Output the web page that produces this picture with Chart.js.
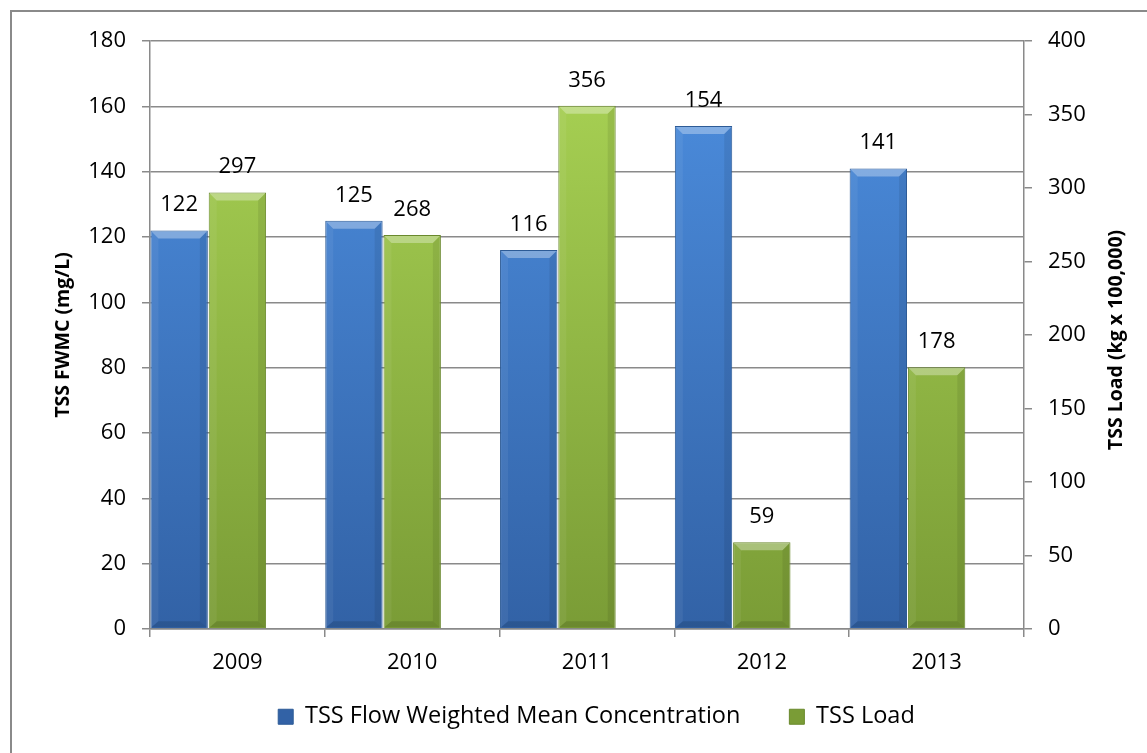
<!DOCTYPE html>
<html>
<head>
<meta charset="utf-8">
<script src="https://cdn.jsdelivr.net/npm/chart.js@4/dist/chart.umd.min.js"></script>
<style>
  html, body { margin: 0; padding: 0; background: #ffffff; overflow: hidden; }
  #wrap { position: relative; width: 1147px; height: 753px; }
  #frame { position: absolute; left: 10px; top: 10px; width: 1200px; height: 800px;
           border-left: 2px solid #8a8a8a; border-top: 2px solid #8a8a8a; pointer-events: none; }
  canvas { position: absolute; left: 0; top: 0; }
</style>
</head>
<body>
<div id="wrap">
  <canvas id="chart" width="1147" height="753"></canvas>
  <div id="frame"></div>
</div>
<script>
// Years on the category axis
const years = ['2009', '2010', '2011', '2012', '2013'];
// Flow weighted mean concentration, mg/L (left axis)
const fwmcValues = [122, 125, 116, 154, 141];
// Sediment load, kg x 100,000 (right axis)
const loadValues = [297, 268, 356, 59, 178];
// Empty third slot that keeps each year's pair of columns left-aligned
const spacerValues = [null, null, null, null, null];

const seriesNames = ['TSS Flow Weighted Mean Concentration', 'TSS Load'];
const leftTitle = 'TSS FWMC (mg/L)';
const rightTitle = 'TSS Load (kg x 100,000)';

const FONT = '"Open Sans", Lato, sans-serif';
const GRID = '#8a8a8a';

function verticalFill(topColor, bottomColor) {
  return (ctx) => {
    const area = ctx.chart.chartArea;
    if (!area) return bottomColor;
    const g = ctx.chart.ctx.createLinearGradient(0, area.top, 0, area.bottom);
    g.addColorStop(0, topColor);
    g.addColorStop(1, bottomColor);
    return g;
  };
}

// Place the legend row just under the year labels
const legendPlacement = {
  id: 'legendPlacement',
  afterLayout(chart) {
    const lg = chart.legend;
    if (!lg) return;
    lg.top = 656;
    lg.bottom = 752;
    lg.height = lg.bottom - lg.top;
    lg.left += 19;
    lg.right += 19;
  }
};

// Both axis titles read bottom-to-top
const axisTitles = {
  id: 'axisTitles',
  afterDraw(chart) {
    const ctx = chart.ctx;
    const a = chart.chartArea;
    const mid = (a.top + a.bottom) / 2;
    ctx.save();
    ctx.fillStyle = '#000000';
    ctx.font = 'bold 19.5px ' + FONT;
    ctx.textAlign = 'center';
    ctx.textBaseline = 'middle';
    [[leftTitle, 63, mid], [rightTitle, 1116, mid + 5]].forEach(([text, x, y]) => {
      ctx.save();
      ctx.translate(x, y);
      ctx.rotate(-Math.PI / 2);
      ctx.fillText(text, 0, 0);
      ctx.restore();
    });
    ctx.restore();
  }
};

// Bevel highlight on each column plus value labels above it
const columnDecor = {
  id: 'columnDecor',
  afterDatasetsDraw(chart) {
    const ctx = chart.ctx;
    ctx.save();
    [0, 1].forEach((di) => {
      const meta = chart.getDatasetMeta(di);
      const values = chart.data.datasets[di].data;
      meta.data.forEach((bar, i) => {
        if (values[i] == null) return;
        const {x, y, width, base} = bar.getProps(['x', 'y', 'width', 'base'], true);
        const l = x - width / 2 + 1, r = x + width / 2 - 1, t = y + 1;
        const b = 7;
        ctx.beginPath();
        ctx.moveTo(l, t); ctx.lineTo(r, t); ctx.lineTo(r - b, t + b); ctx.lineTo(l + b, t + b);
        ctx.closePath();
        ctx.fillStyle = 'rgba(255,255,255,0.32)';
        ctx.fill();
        ctx.beginPath();
        ctx.moveTo(l, t); ctx.lineTo(l + b, t + b); ctx.lineTo(l + b, base - b); ctx.lineTo(l, base - 1);
        ctx.closePath();
        ctx.fillStyle = 'rgba(255,255,255,0.06)';
        ctx.fill();
        ctx.beginPath();
        ctx.moveTo(r, t); ctx.lineTo(r - b, t + b); ctx.lineTo(r - b, base - b); ctx.lineTo(r, base - 1);
        ctx.closePath();
        ctx.fillStyle = 'rgba(0,0,0,0.08)';
        ctx.fill();
        ctx.beginPath();
        ctx.moveTo(l, base - 1); ctx.lineTo(r, base - 1); ctx.lineTo(r - b, base - b); ctx.lineTo(l + b, base - b);
        ctx.closePath();
        ctx.fillStyle = 'rgba(0,0,0,0.12)';
        ctx.fill();
        ctx.fillStyle = '#000000';
        ctx.font = '22px ' + FONT;
        ctx.textAlign = 'center';
        ctx.textBaseline = 'alphabetic';
        ctx.fillText(String(values[i]), x, y - 19);
      });
    });
    ctx.restore();
  }
};

new Chart(document.getElementById('chart'), {
  type: 'bar',
  data: {
    labels: years,
    datasets: [
      {
        label: seriesNames[0],
        data: fwmcValues,
        yAxisID: 'y',
        backgroundColor: verticalFill('#4d8fe0', '#3262a6'),
        borderColor: '#2d5b96',
        borderWidth: 1
      },
      {
        label: seriesNames[1],
        data: loadValues,
        yAxisID: 'y1',
        backgroundColor: verticalFill('#aad455', '#7a9c36'),
        borderColor: '#6a892d',
        borderWidth: 1
      },
      {
        label: '',
        data: spacerValues,
        yAxisID: 'y',
        backgroundColor: 'rgba(0,0,0,0)'
      }
    ]
  },
  options: {
    responsive: false,
    animation: false,
    datasets: { bar: { categoryPercentage: 1.0, barPercentage: 0.985 } },
    layout: { padding: { left: 20, right: 12, top: 41, bottom: 1 } },
    plugins: {
      legend: {
        position: 'bottom',
        maxHeight: 40,
        labels: {
          font: { family: FONT, size: 23.5 },
          color: '#000000',
          boxWidth: 15,
          boxHeight: 15,
          padding: 49,
          filter: (item) => item.datasetIndex < 2
        }
      },
      tooltip: { enabled: false }
    },
    scales: {
      x: {
        grid: { display: true, drawOnChartArea: false, color: GRID, lineWidth: 1.5, tickLength: 8, offset: true },
        border: { display: true, color: GRID, width: 1.5 },
        ticks: { font: { family: FONT, size: 22 }, color: '#000000', padding: 13 },
        afterFit: (s) => { s.height = 83; }
      },
      y: {
        position: 'left',
        min: 0, max: 180,
        ticks: { stepSize: 20, font: { family: FONT, size: 22 }, color: '#000000', padding: 16 },
        grid: { color: GRID, lineWidth: 1.5, tickLength: 8 },
        border: { display: true, color: GRID, width: 1.5 },
        afterFit: (s) => { s.width = 130; }
      },
      y1: {
        position: 'right',
        min: 0, max: 400,
        ticks: { stepSize: 50, font: { family: FONT, size: 22 }, color: '#000000', padding: 16 },
        grid: { drawOnChartArea: false, color: GRID, lineWidth: 1.5, tickLength: 8 },
        border: { display: true, color: GRID, width: 1.5 },
        afterFit: (s) => { s.width = 111; }
      }
    }
  },
  plugins: [columnDecor, legendPlacement, axisTitles]
});
</script>
</body>
</html>
